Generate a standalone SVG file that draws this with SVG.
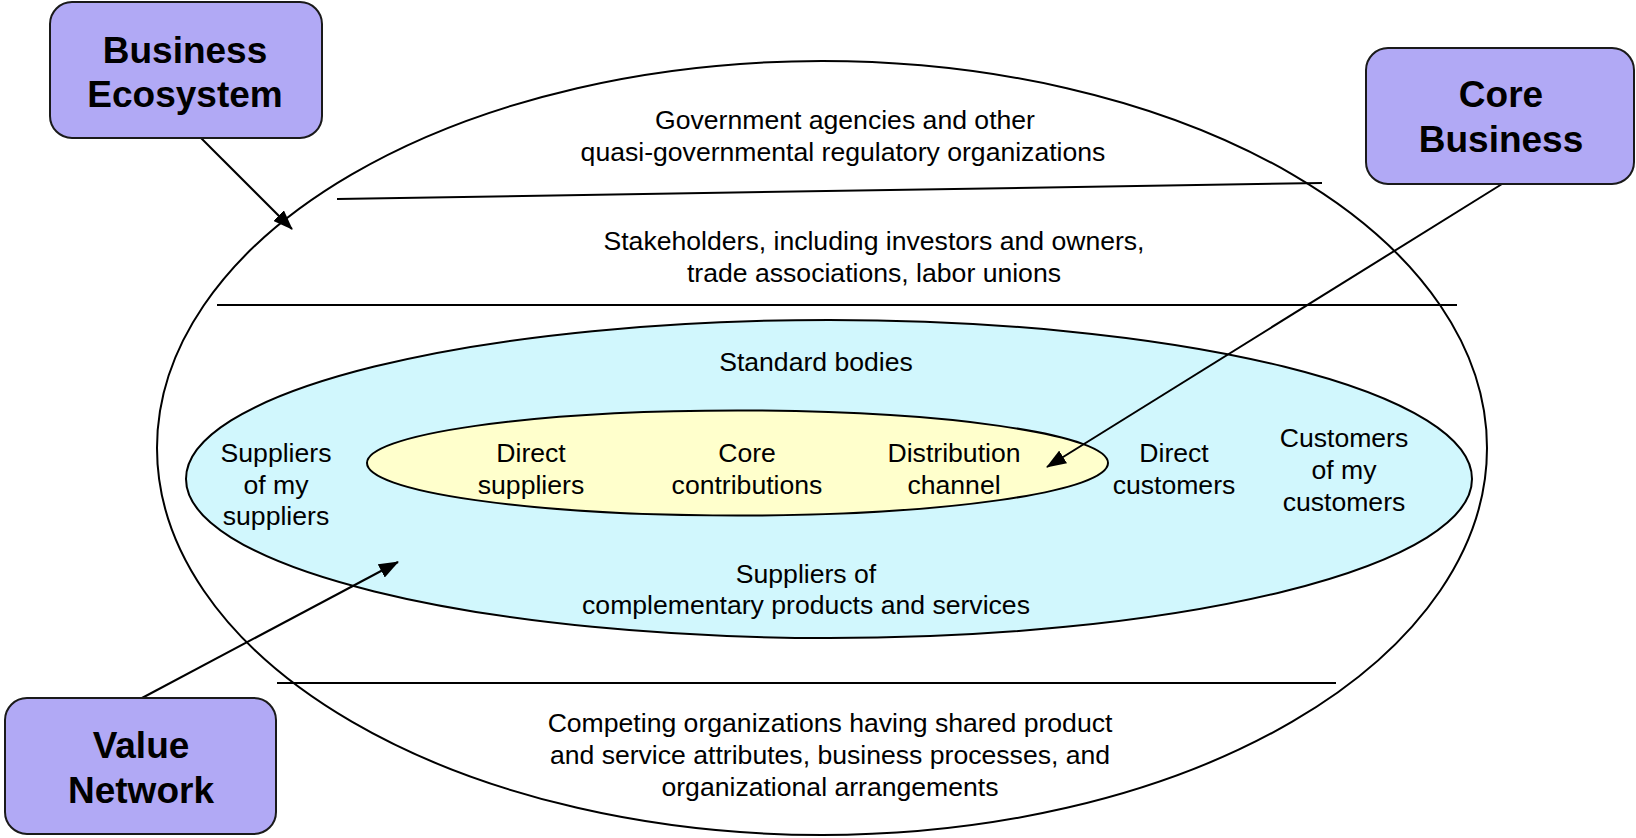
<svg xmlns="http://www.w3.org/2000/svg" width="1636" height="838" viewBox="0 0 1636 838">
  <style>
    .ring { stroke: #000; stroke-width: 2; }
    .divider { stroke: #000; stroke-width: 2; fill: none; }
    .label { font-family: "Liberation Sans", Arial, sans-serif; font-size: 26.6px; fill: #000; text-anchor: middle; }
    .tag-box { fill: #b1a9f5; stroke: #1a1a1a; stroke-width: 2; }
    .tag { font-family: "Liberation Sans", Arial, sans-serif; font-size: 37px; font-weight: bold; fill: #000; text-anchor: middle; }
    .link { stroke: #000; stroke-width: 2; fill: none; marker-end: url(#arrow); }
  </style>
  <defs>
    <marker id="arrow" markerWidth="20" markerHeight="15" refX="19" refY="7.5" orient="auto" markerUnits="userSpaceOnUse">
      <path d="M0,0 L20,7.5 L0,15 z" fill="#000"/>
    </marker>
  </defs>

  <rect width="1636" height="838" fill="#fff"/>

  <!-- Business ecosystem: outer ring with its horizontal bands -->
  <g id="ecosystem">
    <ellipse class="ring" cx="822" cy="448" rx="665" ry="387" fill="none"/>
    <line class="divider" x1="337" y1="199" x2="1322" y2="183"/>
    <line class="divider" x1="217" y1="305" x2="1457" y2="305"/>
    <line class="divider" x1="277" y1="683" x2="1336" y2="683"/>
  </g>

  <g id="government">
    <text class="label" x="845" y="129">Government agencies and other</text>
    <text class="label" x="843" y="161">quasi-governmental regulatory organizations</text>
  </g>
  <g id="stakeholders">
    <text class="label" x="874" y="250">Stakeholders, including investors and owners,</text>
    <text class="label" x="874" y="282">trade associations, labor unions</text>
  </g>
  <g id="competitors">
    <text class="label" x="830" y="732">Competing organizations having shared product</text>
    <text class="label" x="830" y="764">and service attributes, business processes, and</text>
    <text class="label" x="830" y="796">organizational arrangements</text>
  </g>

  <!-- Value network ring -->
  <g id="value-network">
    <ellipse class="ring" cx="829" cy="479" rx="643" ry="159" fill="#d1f7fd"/>
  </g>
  <g id="standard-bodies">
    <text class="label" x="816" y="371">Standard bodies</text>
  </g>
  <g id="suppliers-of-suppliers">
    <text class="label" x="276" y="462">Suppliers</text>
    <text class="label" x="276" y="494">of my</text>
    <text class="label" x="276" y="525">suppliers</text>
  </g>
  <g id="direct-customers">
    <text class="label" x="1174" y="462">Direct</text>
    <text class="label" x="1174" y="494">customers</text>
  </g>
  <g id="customers-of-customers">
    <text class="label" x="1344" y="447">Customers</text>
    <text class="label" x="1344" y="479">of my</text>
    <text class="label" x="1344" y="511">customers</text>
  </g>
  <g id="complementary">
    <text class="label" x="806" y="583">Suppliers of</text>
    <text class="label" x="806" y="614">complementary products and services</text>
  </g>

  <!-- Core business ring -->
  <g id="core-business">
    <ellipse class="ring" cx="737.5" cy="463" rx="370.5" ry="52.5" fill="#ffffcc"/>
  </g>
  <g id="direct-suppliers">
    <text class="label" x="531" y="462">Direct</text>
    <text class="label" x="531" y="494">suppliers</text>
  </g>
  <g id="core-contributions">
    <text class="label" x="747" y="462">Core</text>
    <text class="label" x="747" y="494">contributions</text>
  </g>
  <g id="distribution">
    <text class="label" x="954" y="462">Distribution</text>
    <text class="label" x="954" y="494">channel</text>
  </g>

  <!-- Pointers from the tags to the rings -->
  <g id="connectors">
    <line class="link" x1="201" y1="138" x2="292" y2="229"/>
    <line class="link" x1="1502" y1="184" x2="1047" y2="467"/>
    <line class="link" x1="142" y1="698" x2="398" y2="562"/>
  </g>

  <!-- Tags -->
  <g id="tag-business-ecosystem">
    <rect class="tag-box" x="50" y="2" width="272" height="136" rx="22"/>
    <text class="tag" x="185" y="63">Business</text>
    <text class="tag" x="185" y="107">Ecosystem</text>
  </g>
  <g id="tag-core-business">
    <rect class="tag-box" x="1366" y="48" width="268" height="136" rx="22"/>
    <text class="tag" x="1501" y="107">Core</text>
    <text class="tag" x="1501" y="152">Business</text>
  </g>
  <g id="tag-value-network">
    <rect class="tag-box" x="5" y="698" width="271" height="136" rx="22"/>
    <text class="tag" x="141" y="758">Value</text>
    <text class="tag" x="141" y="803">Network</text>
  </g>
</svg>
